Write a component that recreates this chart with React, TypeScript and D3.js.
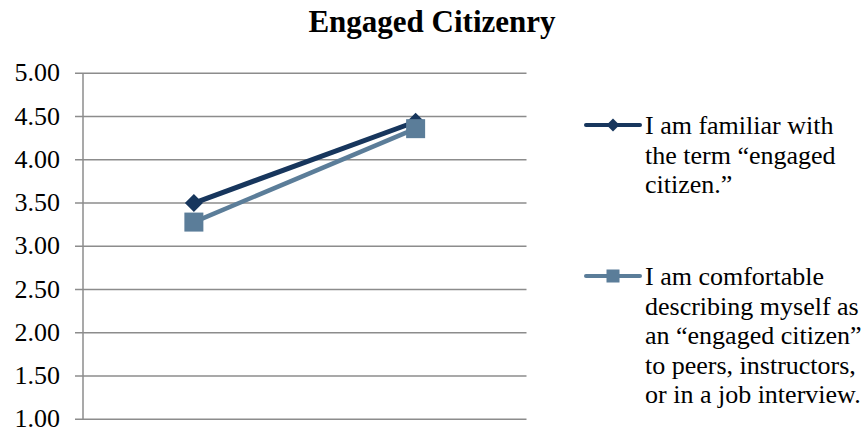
import { useEffect, useRef } from "react";
import * as d3 from "d3";

// categories (no visible labels in the reference)
const categories = ["Before", "After"];
const familiarValues = [3.5, 4.44];
const comfortableValues = [3.28, 4.36];
const yTicks = [1, 1.5, 2, 2.5, 3, 3.5, 4, 4.5, 5];

const familiarLabel = ["I am familiar with", "the term \u201Cengaged", "citizen.\u201D"];
const comfortableLabel = [
    "I am comfortable",
    "describing myself as",
    "an \u201Cengaged citizen\u201D",
    "to peers, instructors,",
    "or in a job interview.",
];

const W = 868;
const H = 432;
const FONT = "'Liberation Serif', 'Times New Roman', serif";

export default function App() {
    const ref = useRef<SVGSVGElement>(null);

    useEffect(() => {
        document.body.style.margin = "0";
        const svg = d3.select(ref.current);
        svg.selectAll("*").remove();

        const left = 83, right = 526.5, top = 73.3, bottom = 419.3;

        const x = d3.scaleBand<string>().domain(categories).range([left, right]);
        const y = d3.scaleLinear().domain([1, 5]).range([bottom, top]);

        // title
        svg.append("text")
            .attr("x", 432)
            .attr("y", 32)
            .attr("text-anchor", "middle")
            .attr("font-family", FONT)
            .attr("font-weight", "bold")
            .attr("font-size", 31)
            .text("Engaged Citizenry");

        // gridlines + ticks
        svg.append("g")
            .selectAll("line")
            .data(yTicks)
            .join("line")
            .attr("x1", left - 8)
            .attr("x2", right)
            .attr("y1", d => y(d))
            .attr("y2", d => y(d))
            .attr("stroke", "#8c8c8c")
            .attr("stroke-width", 1.5);

        svg.append("line")
            .attr("x1", left).attr("x2", left)
            .attr("y1", top).attr("y2", bottom)
            .attr("stroke", "#8c8c8c")
            .attr("stroke-width", 1.5);

        svg.append("g")
            .selectAll("text")
            .data(yTicks)
            .join("text")
            .attr("x", 60)
            .attr("y", d => y(d))
            .attr("dy", "0.31em")
            .attr("text-anchor", "end")
            .attr("font-family", FONT)
            .attr("font-size", 26)
            .text(d => d.toFixed(2));

        const cx = (c: string) => (x(c) ?? 0) + x.bandwidth() / 2;
        const line = d3.line<number>()
            .x((_, i) => cx(categories[i]))
            .y(d => y(d));

        const series = [
            { values: familiarValues, color: "#17365d", width: 5, marker: "diamond", label: familiarLabel, ly: 125 },
            { values: comfortableValues, color: "#5b7d99", width: 4.5, marker: "square", label: comfortableLabel, ly: 276 },
        ];

        const diamond = (s: number) => `M0,${-s}L${s},0L0,${s}L${-s},0Z`;

        series.forEach(s => {
            svg.append("path")
                .attr("d", line(s.values))
                .attr("fill", "none")
                .attr("stroke", s.color)
                .attr("stroke-width", s.width);

            const g = svg.append("g");
            s.values.forEach((v, i) => {
                const px = cx(categories[i]);
                const py = y(v);
                if (s.marker === "diamond") {
                    g.append("path")
                        .attr("transform", `translate(${px},${py})`)
                        .attr("d", diamond(9))
                        .attr("fill", s.color);
                } else {
                    g.append("rect")
                        .attr("x", px - 9.5)
                        .attr("y", py - 9.5)
                        .attr("width", 19)
                        .attr("height", 19)
                        .attr("fill", s.color);
                }
            });

            // legend
            const lg = svg.append("g");
            lg.append("line")
                .attr("x1", 586).attr("x2", 640)
                .attr("y1", s.ly).attr("y2", s.ly)
                .attr("stroke", s.color)
                .attr("stroke-width", 4)
                .attr("stroke-linecap", "round");
            if (s.marker === "diamond") {
                lg.append("path")
                    .attr("transform", `translate(613,${s.ly})`)
                    .attr("d", diamond(6.5))
                    .attr("fill", s.color);
            } else {
                lg.append("rect")
                    .attr("x", 606.5).attr("y", s.ly - 6.5)
                    .attr("width", 13).attr("height", 13)
                    .attr("fill", s.color);
            }
            lg.append("text")
                .attr("font-family", FONT)
                .attr("font-size", 26)
                .selectAll("tspan")
                .data(s.label)
                .join("tspan")
                .attr("x", 645)
                .attr("y", (_, i) => s.ly + 9 + i * 29.6)
                .text(d => d);
        });
    }, []);

    return (
        <svg
            ref={ref}
            width={W}
            height={H}
            style={{ position: "absolute", left: 0, top: 0, background: "white" }}
        />
    );
}
